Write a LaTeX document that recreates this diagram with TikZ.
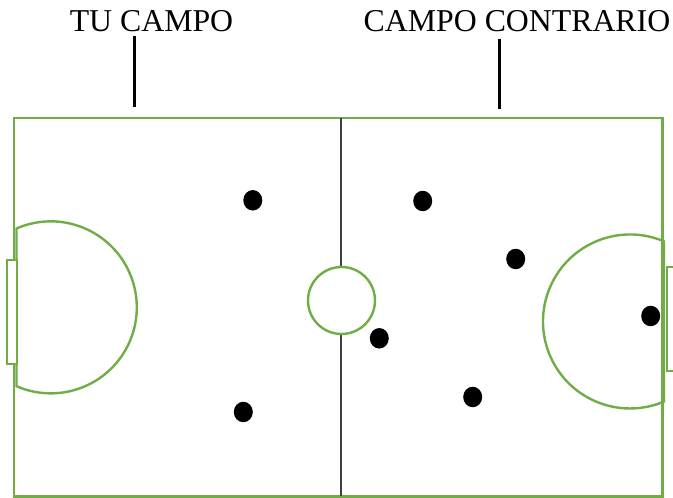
\documentclass[tikz,border=0pt]{standalone}
\usepackage{fontspec}
\setmainfont{Liberation Serif}
\usetikzlibrary{shapes.geometric}
\definecolor{fieldgreen}{HTML}{70AD47}
\definecolor{midgray}{HTML}{404040}
\tikzset{
  fieldline/.style={draw=fieldgreen, line width=2.4pt},
  player/.style={ellipse, fill=black, draw=none, inner sep=0pt, minimum width=19pt, minimum height=20.5pt},
  label/.style={anchor=base, inner sep=0pt, font=\fontsize{31.8}{38}\selectfont},
  tick/.style={draw=black, line width=3pt}
}
\begin{document}
\begin{tikzpicture}[x=1pt,y=1pt]
\useasboundingbox (0,0) rectangle (673,498);
\fill[white] (0,0) rectangle (673,498);
\clip (0,0) rectangle (673,498);
% field
\path[fieldline] (14,1.5) rectangle (662.5,380);
% center line
\draw[midgray, line width=1.3pt] (341,380) -- (341,1.5);
% center circle
\path[fieldline, fill=white] (341.5,197.5) circle[radius=33.5];
% left goal area
\path[fieldline] (16.5,269.5) arc[start angle=113.5, end angle=-113.5, radius=86] -- cycle;
\path[fieldline, fill=white] (7,134) rectangle (17,238);
% right goal area
\path[fieldline] (664,256.6) arc[start angle=67, end angle=293, radius=87] -- cycle;
\path[fieldline, fill=white] (667,127) rectangle (680,231);
% labels
\node[label] (tu) at (151.5,466) {TU CAMPO};
\node[label] (contra) at (517,466) {CAMPO CONTRARIO};
\coordinate (t1a) at (134.5,462);
\coordinate (t1b) at (134.5,391);
\coordinate (t2a) at (499,459);
\coordinate (t2b) at (499,389);
\draw[tick] (t1a) -- (t1b);
\draw[tick] (t2a) -- (t2b);
% players
\node[player] (p1) at (252.8,297.7) {};
\node[player] (p2) at (243.3,86) {};
\node[player] (p3) at (422.7,297) {};
\node[player] (p4) at (515.7,239) {};
\node[player] (p5) at (379.3,159.7) {};
\node[player] (p6) at (472.7,101) {};
\node[player] (p7) at (650.7,182) {};
\end{tikzpicture}
\end{document}
